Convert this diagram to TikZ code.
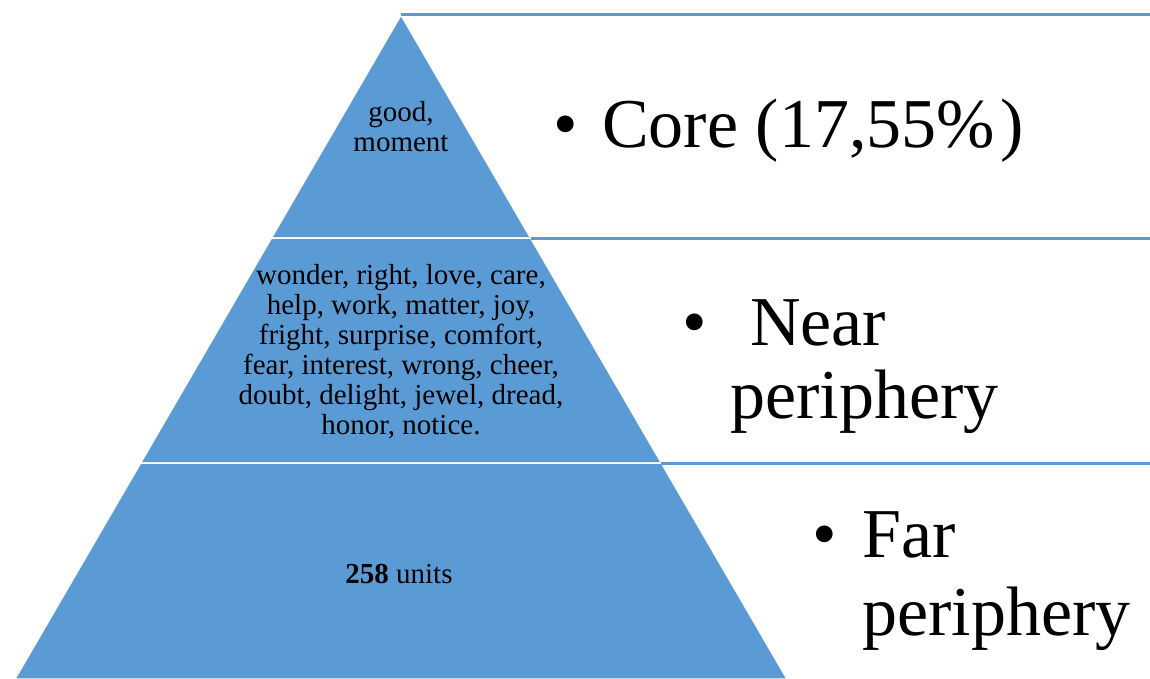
\documentclass[tikz,border=0pt]{standalone}
\usepackage{fontspec}
\setmainfont{Liberation Serif}
\usepackage{tikz}
\definecolor{pyrblue}{HTML}{5B9BD5}

\begin{document}
\begin{tikzpicture}[x=1pt,y=-1pt]
    \tikzstyle{band} = [fill=pyrblue, draw=white, line width=1.5pt]
    \tikzstyle{rule} = [draw=pyrblue, line width=3pt]
    \tikzstyle{words} = [font=\fontsize{29}{30}\selectfont, align=center, inner sep=0pt]
    \tikzstyle{level} = [font=\fontsize{70}{75}\selectfont, anchor=base west, inner sep=0pt]
    \useasboundingbox (0,0) rectangle (1150,679);
    % pyramid corners
    \coordinate (apex) at (401,15);
    \coordinate (coreL) at (271.4,238);
    \coordinate (coreR) at (530.6,238);
    \coordinate (nearL) at (140.6,463);
    \coordinate (nearR) at (661.4,463);
    \coordinate (baseL) at (15,679);
    \coordinate (baseR) at (787,679);
    % right ends of the rules
    \coordinate (topEnd) at (1150,15);
    \coordinate (coreEnd) at (1150,238);
    \coordinate (nearEnd) at (1150,463);
    \draw[band] (apex) -- (coreR) -- (coreL) -- cycle;
    \draw[band] (coreL) -- (coreR) -- (nearR) -- (nearL) -- cycle;
    \draw[band] (nearL) -- (nearR) -- (baseR) -- (baseL) -- cycle;
    \draw[rule] (apex) -- (topEnd);
    \draw[rule] (coreR) -- (coreEnd);
    \draw[rule] (nearR) -- (nearEnd);
    % words in the pyramid
    \node[words] (coreWords) at (401,127) {good,\\moment};
    \node[words] (nearWords) at (401,352) {wonder, right, love, care,\\help, work, matter, joy,\\fright, surprise, comfort,\\fear, interest, wrong, cheer,\\doubt, delight, jewel, dread,\\honor, notice.};
    \node[words, anchor=base] (farWords) at (399,583) {\textbf{258} units};
    % levels
    \node[level] (coreLbl) at (602,148) {\llap{\textbullet\hspace{24pt}}Core (17,55\%\hspace{6pt})};
    \node[level] (nearLbl) at (730,345) {\llap{\textbullet\hspace{23pt}}\hspace{20pt}Near};
    \node[level] (nearLblB) at (730,418) {periphery};
    \node[level] (farLbl) at (862,557) {\llap{\textbullet\hspace{25pt}}Far};
    \node[level] (farLblB) at (862,635) {periphery};
\end{tikzpicture}
\end{document}
